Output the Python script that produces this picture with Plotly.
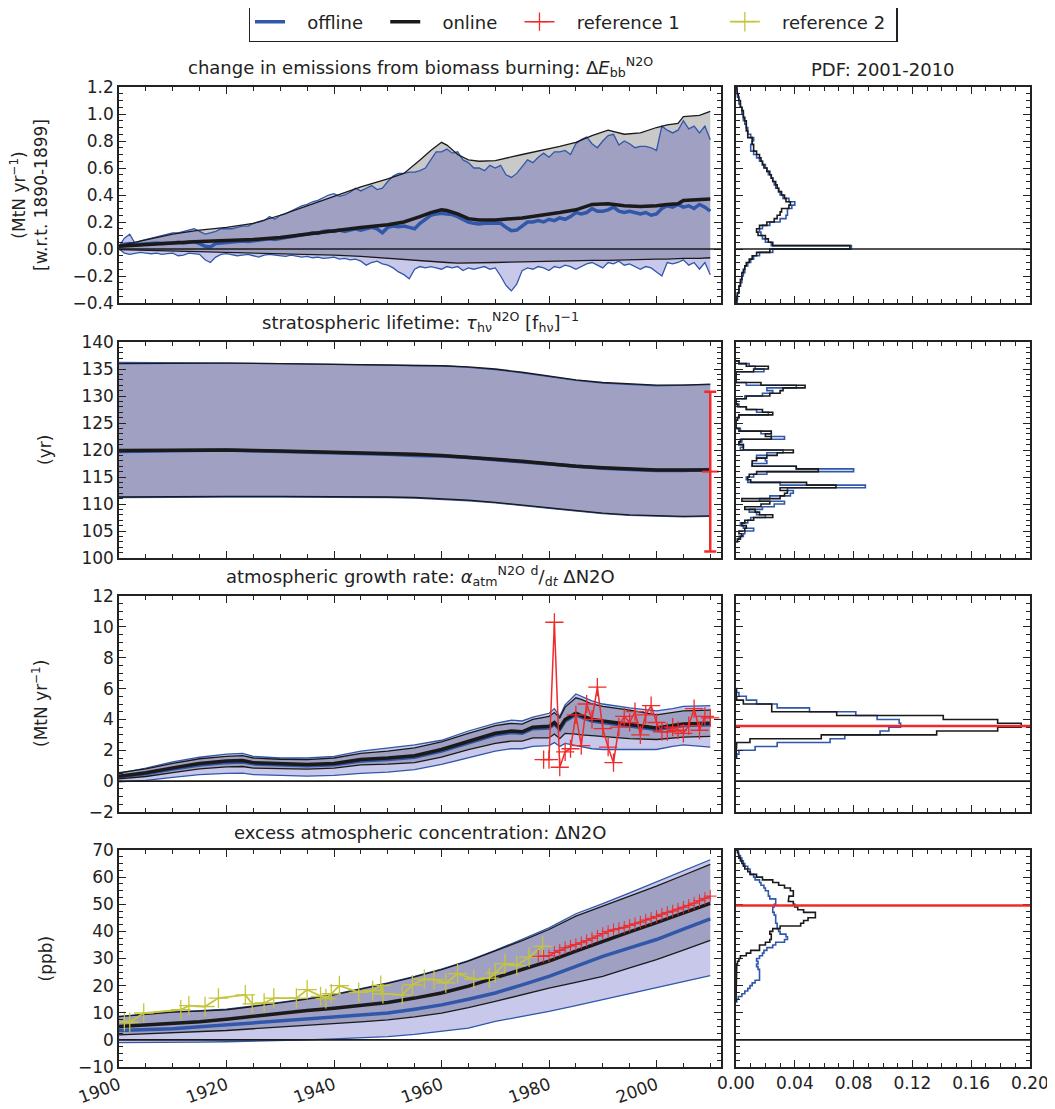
import plotly.graph_objects as go

# ---------------- DATA ----------------
# Panel 1: change in biomass-burning emissions (MtN/yr)
years_bb = list(range(1900, 2011))
off1_up = [0.02,0.08,0.11,0.04,0.06,0.07,0.08,0.09,0.10,0.11,
           0.12,0.12,0.13,0.14,0.15,0.13,0.11,0.12,0.13,0.15,
           0.15,0.15,0.16,0.17,0.17,0.19,0.20,0.21,0.24,0.22,
           0.25,0.26,0.28,0.30,0.32,0.33,0.35,0.36,0.38,0.40,
           0.41,0.39,0.40,0.42,0.45,0.43,0.45,0.47,0.44,0.45,
           0.50,0.54,0.56,0.56,0.57,0.57,0.58,0.60,0.66,0.72,
           0.72,0.74,0.71,0.72,0.66,0.64,0.60,0.60,0.58,0.62,
           0.60,0.62,0.55,0.53,0.56,0.61,0.66,0.64,0.68,0.71,
           0.68,0.72,0.72,0.73,0.70,0.78,0.81,0.83,0.78,0.75,
           0.80,0.84,0.85,0.77,0.80,0.78,0.75,0.76,0.76,0.75,
           0.73,0.91,0.88,0.86,0.88,0.95,0.89,0.91,0.86,0.91,
           0.81]
off1_med = [0.02,0.035,0.04,0.03,0.035,0.04,0.04,0.045,0.04,0.04,
            0.045,0.05,0.045,0.05,0.055,0.04,0.02,0.015,0.04,0.045,
            0.05,0.05,0.055,0.06,0.055,0.06,0.065,0.07,0.075,0.07,
            0.08,0.085,0.09,0.10,0.105,0.11,0.12,0.115,0.13,0.135,
            0.13,0.14,0.13,0.14,0.15,0.14,0.15,0.16,0.15,0.12,
            0.16,0.17,0.165,0.17,0.16,0.15,0.19,0.22,0.25,0.26,
            0.265,0.26,0.255,0.24,0.22,0.20,0.19,0.185,0.19,0.19,
            0.185,0.19,0.16,0.135,0.14,0.17,0.20,0.20,0.21,0.20,
            0.22,0.21,0.23,0.22,0.24,0.27,0.26,0.27,0.30,0.28,
            0.28,0.29,0.31,0.28,0.27,0.28,0.27,0.26,0.27,0.25,
            0.26,0.30,0.32,0.31,0.33,0.31,0.32,0.30,0.33,0.31,
            0.28]
off1_lo = [0.0,-0.03,-0.04,-0.03,-0.025,-0.03,-0.035,-0.03,-0.04,-0.035,
           -0.03,-0.05,-0.045,-0.03,-0.035,-0.04,-0.08,-0.10,-0.06,-0.04,
           -0.035,-0.04,-0.05,-0.045,-0.04,-0.05,-0.06,-0.045,-0.04,-0.045,
           -0.05,-0.055,-0.045,-0.05,-0.06,-0.055,-0.065,-0.06,-0.07,-0.065,
           -0.06,-0.075,-0.07,-0.08,-0.075,-0.09,-0.12,-0.10,-0.09,-0.11,
           -0.12,-0.14,-0.17,-0.19,-0.22,-0.15,-0.13,-0.14,-0.13,-0.14,
           -0.15,-0.13,-0.14,-0.13,-0.16,-0.14,-0.15,-0.14,-0.13,-0.15,
           -0.14,-0.20,-0.27,-0.31,-0.26,-0.16,-0.14,-0.15,-0.13,-0.14,
           -0.16,-0.13,-0.14,-0.12,-0.13,-0.15,-0.13,-0.11,-0.10,-0.12,
           -0.14,-0.10,-0.11,-0.09,-0.12,-0.11,-0.13,-0.15,-0.13,-0.14,
           -0.17,-0.20,-0.10,-0.11,-0.10,-0.08,-0.12,-0.10,-0.15,-0.10,
           -0.19]
years_on1 = [1900,1905,1910,1915,1920,1925,1930,1935,1940,1945,1950,1953,1956,1958,1960,1961,
             1963,1965,1967,1970,1975,1980,1982,1985,1988,1991,1994,1997,2000,2002,2004,2005,2008,2010]
on1_up = [0.025,0.07,0.11,0.14,0.16,0.19,0.25,0.32,0.39,0.46,0.52,0.56,0.66,0.73,0.79,0.77,
          0.70,0.66,0.65,0.655,0.70,0.74,0.76,0.79,0.84,0.88,0.85,0.86,0.90,0.92,0.93,0.98,0.99,1.02]
on1_med = [0.02,0.035,0.045,0.055,0.06,0.07,0.085,0.11,0.14,0.16,0.18,0.20,0.24,0.27,0.29,0.285,
           0.26,0.225,0.215,0.215,0.23,0.255,0.27,0.29,0.33,0.335,0.32,0.315,0.32,0.33,0.335,0.36,0.365,0.37]
on1_lo = [-0.005,-0.01,-0.015,-0.02,-0.02,-0.025,-0.03,-0.035,-0.045,-0.055,-0.07,-0.08,-0.09,-0.095,-0.10,-0.10,
          -0.105,-0.105,-0.10,-0.10,-0.095,-0.09,-0.09,-0.09,-0.085,-0.085,-0.08,-0.08,-0.075,-0.075,-0.07,-0.07,-0.07,-0.065]

# Panel 2: stratospheric lifetime (yr)
years_lt = [1900,1910,1920,1930,1940,1950,1955,1960,1965,1970,1975,1980,1985,1990,1995,2000,2005,2010]
on2_up  = [136.0,136.1,136.1,136.0,135.9,135.8,135.7,135.6,135.4,135.0,134.4,133.7,133.0,132.5,132.2,132.0,132.0,132.2]
on2_med = [119.9,120.0,120.0,119.8,119.6,119.3,119.2,119.0,118.7,118.3,117.9,117.4,117.0,116.7,116.5,116.3,116.3,116.3]
on2_lo  = [111.3,111.4,111.4,111.4,111.4,111.3,111.2,111.0,110.7,110.3,109.8,109.2,108.7,108.3,108.0,107.8,107.7,107.8]
off2_up  = [136.2,136.2,136.1,136.0,135.9,135.7,135.6,135.6,135.3,134.9,134.3,133.6,132.9,132.4,132.1,131.9,132.0,132.1]
off2_med = [119.7,119.9,120.0,119.7,119.5,119.2,119.0,118.9,118.6,118.2,117.8,117.3,116.9,116.6,116.4,116.2,116.2,116.4]
off2_lo  = [111.2,111.3,111.3,111.3,111.3,111.2,111.1,110.9,110.6,110.2,109.7,109.1,108.6,108.2,107.9,107.7,107.6,107.7]
ref1_lt_year = [2010]
ref1_lt_val = [116.0]
ref1_lt_err = [14.8]

# Panel 3: atmospheric growth rate (MtN/yr)
years_gr = [1900,1905,1910,1915,1920,1923,1925,1930,1935,1940,1945,1950,1955,1960,1965,1970,
            1973,1975,1977,1980,1981,1982,1983,1985,1986,1988,1990,1995,2000,2003,2005,2010]
on3_up  = [0.55,0.80,1.15,1.45,1.60,1.65,1.50,1.42,1.40,1.50,1.80,1.95,2.15,2.55,3.10,3.60,
           3.75,3.70,4.00,4.20,4.45,4.10,4.80,5.40,5.30,5.00,4.85,4.60,4.30,4.45,4.55,4.60]
on3_med = [0.32,0.54,0.86,1.15,1.30,1.34,1.20,1.12,1.08,1.15,1.40,1.50,1.65,2.05,2.60,3.10,
           3.25,3.20,3.50,3.55,3.80,3.45,4.00,4.40,4.25,4.00,3.90,3.70,3.45,3.60,3.70,3.75]
on3_lo  = [0.15,0.30,0.55,0.80,0.92,0.95,0.85,0.80,0.78,0.85,1.05,1.10,1.20,1.55,2.05,2.45,
           2.60,2.60,2.80,2.80,3.05,2.75,3.10,3.05,3.00,2.95,2.90,2.75,2.70,2.80,2.85,2.90]
off3_up  = [0.50,0.85,1.25,1.55,1.75,1.80,1.60,1.50,1.50,1.60,1.95,2.15,2.35,2.65,3.25,3.75,
            3.95,3.90,4.15,4.40,4.70,4.20,4.95,5.65,5.50,5.20,5.00,4.75,4.55,4.70,4.85,4.90]
off3_med = [0.28,0.48,0.78,1.05,1.20,1.24,1.12,1.05,1.00,1.07,1.30,1.40,1.55,1.95,2.50,3.00,
            3.15,3.10,3.40,3.45,3.70,3.35,3.90,4.30,4.15,3.90,3.80,3.60,3.35,3.50,3.60,3.65]
off3_lo  = [-0.05,0.05,0.25,0.42,0.50,0.52,0.42,0.35,0.32,0.37,0.50,0.58,0.75,1.08,1.50,1.95,
            2.10,2.10,2.25,2.30,2.50,2.25,2.45,2.30,2.25,2.10,2.05,2.05,2.05,2.25,2.35,2.20]
ref1_gr_years = list(range(1979, 2011))
ref1_gr = [1.4,1.4,10.3,0.9,1.9,2.1,4.3,2.3,5.0,4.0,6.1,3.4,2.2,1.2,3.5,4.2,3.8,4.5,3.0,4.3,
           4.9,3.8,3.2,3.2,3.5,3.3,3.1,3.6,4.7,3.3,4.2,4.1]
ref1_gr_mean = 3.57

# Panel 4: excess atmospheric concentration (ppb)
years_cn = [1900,1905,1910,1915,1920,1925,1930,1935,1940,1945,1950,1955,1960,1965,1970,1975,
            1980,1985,1990,1995,2000,2005,2010]
on4_up  = [8.6,9.4,10.2,10.6,11.1,12.3,13.6,15.0,16.6,18.6,20.8,23.2,25.9,29.0,32.7,36.6,
           40.7,45.6,49.3,53.0,56.7,60.7,64.7]
on4_med = [4.9,5.4,5.9,6.7,7.6,8.7,9.9,10.8,11.7,12.7,13.8,15.4,17.3,19.8,22.8,25.9,
           29.0,32.7,36.4,39.8,43.2,46.8,50.3]
on4_lo  = [1.85,2.2,2.5,3.0,3.45,4.1,4.7,5.3,5.9,6.6,7.4,8.5,9.9,11.9,14.2,16.6,
           19.1,21.2,23.4,26.5,29.6,33.1,36.7]
off4_up  = [8.7,9.5,10.3,10.8,11.3,12.5,13.8,15.2,16.8,18.8,21.0,23.4,26.1,29.2,33.0,37.1,
            41.3,46.5,50.2,54.2,58.2,62.4,66.4]
off4_med = [3.45,3.8,4.1,4.8,5.5,6.1,6.8,7.6,8.4,9.1,9.9,11.3,12.9,15.0,17.3,20.3,
            23.4,27.1,30.8,33.9,37.0,40.8,44.6]
off4_lo  = [-1.0,-1.0,-1.0,-0.85,-0.7,-0.55,-0.4,0.0,0.4,0.8,1.2,2.0,3.1,4.3,6.8,8.6,
            10.5,12.6,14.8,16.9,19.1,21.4,23.7]
ref1_cn_years = list(range(1978, 2011))
ref1_cn = [30.8,30.8,31.0,32.2,33.0,34.0,34.6,35.2,35.8,36.6,37.4,38.3,39.2,40.0,40.6,41.0,41.5,
           42.2,42.8,43.4,44.2,44.8,45.5,46.3,47.0,47.5,48.2,48.9,49.6,50.4,51.3,52.2,53.0]
ref1_cn_mean = 49.5
ref2_cn_years = [1901,1902,1904.6,1911.5,1913,1916,1918.5,1923.5,1924.8,1927,1928.8,1933,1935,1937.5,
                 1938.5,1939.5,1941,1944.6,1947.2,1948.7,1949.1,1952.7,1954.6,1956.8,1958.6,1960.8,
                 1963,1966,1968.9,1970,1971.8,1974,1976.3,1978.8]
ref2_cn = [6.8,6.5,9.9,11.1,12.6,12.3,15.4,16.6,13.3,13.6,15.4,15.4,18.5,16.0,15.2,17.0,20.0,
           17.5,18.2,20.1,17.0,16.6,20.3,22.4,22.2,21.0,24.4,22.4,22.8,24.7,28.1,27.4,30.5,34.5]

# PDFs 2001-2010 (bin start, bin width, densities bottom-up)
pdf1_start, pdf1_width = -0.4, 0.025
pdf1_on = [0.0005,0.0005,0.001,0.002,0.002,0.003,0.003,0.004,0.004,0.005,0.006,0.007,0.009,0.011,0.014,0.023,
           0.0775,0.025,0.022,0.020,0.015,0.014,0.016,0.021,0.026,0.028,0.030,0.031,0.036,0.037,0.034,0.033,
           0.031,0.029,0.028,0.027,0.025,0.024,0.023,0.021,0.019,0.018,0.017,0.016,0.014,0.012,0.012,0.011,
           0.011,0.008,0.008,0.007,0.007,0.007,0.006,0.005,0.005,0.004,0.003,0.003,0.002,0.0015,0.001,0.0005]
pdf1_off = [0.0005,0.001,0.001,0.002,0.002,0.003,0.004,0.004,0.005,0.006,0.006,0.008,0.010,0.012,0.016,0.025,
            0.0785,0.024,0.020,0.018,0.017,0.016,0.018,0.023,0.030,0.034,0.035,0.035,0.038,0.040,0.036,0.032,
            0.030,0.029,0.027,0.026,0.025,0.024,0.022,0.021,0.020,0.018,0.016,0.014,0.012,0.010,0.010,0.011,
            0.012,0.010,0.008,0.008,0.007,0.006,0.005,0.005,0.004,0.004,0.003,0.002,0.002,0.001,0.001,0.0005]
pdf2_start, pdf2_width = 103.0, 0.5
pdf2_on = [0.001,0.003,0.004,0.002,0.006,0.007,0.004,0.006,0.012,0.025,
           0.016,0.013,0.006,0.017,0.023,0.004,0.030,0.033,0.035,0.030,
           0.068,0.048,0.010,0.008,0.009,0.014,0.056,0.041,0.011,0.011,
           0.014,0.021,0.028,0.039,0.005,0.005,0.002,0.003,0.024,0.020,
           0.024,0.002,0.0,0.0,0.0,0.001,0.002,0.025,0.018,0.007,
           0.001,0.0,0.0,0.007,0.023,0.030,0.032,0.047,0.017,0.0,
           0.0,0.0,0.0,0.012,0.022,0.007,0.002]
pdf2_off = [0.001,0.002,0.005,0.006,0.012,0.005,0.003,0.008,0.010,0.020,
            0.014,0.009,0.018,0.026,0.033,0.016,0.023,0.037,0.039,0.035,
            0.088,0.030,0.008,0.007,0.012,0.021,0.080,0.041,0.011,0.021,
            0.020,0.014,0.021,0.032,0.003,0.005,0.002,0.004,0.033,0.024,
            0.017,0.003,0.0,0.0,0.0,0.001,0.002,0.022,0.014,0.007,
            0.002,0.0,0.0,0.006,0.018,0.025,0.021,0.041,0.007,0.0,
            0.0,0.0,0.0,0.019,0.013,0.009,0.002]
pdf3_start, pdf3_width = 1.5, 0.25
pdf3_on = [0.0,0.0,0.0,0.0005,0.0095,0.058,0.1365,0.178,0.194,0.178,0.141,0.0685,0.0243,0.0243,0.005,0.0005,0.0,0.0]
pdf3_off = [0.0005,0.002,0.013,0.028,0.064,0.074,0.098,0.104,0.112,0.111,0.096,0.0815,0.05,0.028,0.014,0.007,0.002,0.0005]
pdf4_start, pdf4_width = 14.0, 1.0
pdf4_on = [0.0]*13 + [0.0005,0.001,0.002,0.003,0.007,0.010,0.016,0.016,0.020,0.023,0.024,0.024,0.023,0.025,
                      0.030,0.044,0.046,0.049,0.054,0.054,0.046,0.042,0.040,0.039,0.0356,0.036,0.039,0.039,
                      0.037,0.033,0.029,0.025,0.018,0.014,0.0095,0.008,0.006,0.005,0.004,0.003,0.002,0.0016,0.001]
pdf4_off = [0.0005,0.0016,0.004,0.006,0.008,0.0095,0.011,0.013,0.016,0.016,0.016,0.016,0.015,0.014,0.015,
            0.014,0.016,0.018,0.019,0.021,0.025,0.027,0.033,0.035,0.034,0.030,0.029,0.028,0.028,0.027,
            0.027,0.027,0.026,0.025,0.025,0.026,0.027,0.027,0.023,0.022,0.022,0.020,0.019,0.017,0.016,
            0.013,0.012,0.010,0.0095,0.008,0.006,0.005,0.004,0.003,0.002,0.0015]

legend_names = ["offline", "online", "reference 1", "reference 2"]
titles = ["change in emissions from biomass burning: Δ<i>E</i><sub>bb</sub><sup>N2O</sup>",
          "stratospheric lifetime: <i>τ</i><sub>hν</sub><sup>N2O</sup> [f<sub>hν</sub>]<sup>−1</sup>",
          "atmospheric growth rate: <i>α</i><sub>atm</sub><sup>N2O</sup> <sup>d</sup>/<sub>d<i>t</i></sub> ΔN2O",
          "excess atmospheric concentration: ΔN2O"]
ylabels = ["(MtN yr<sup>−1</sup>)<br>[w.r.t. 1890-1899]", "(yr)", "(MtN yr<sup>−1</sup>)", "(ppb)"]

# ---------------- STYLE ----------------
W, H = 1055, 1109
OFF = 8  # page body margin seen in the screenshot
BLUE = "#3157aa"
BLACK = "#1a1a1a"
RED = "#f02a2a"
YEL = "#c5c53c"
FILL_ON = "rgba(0,0,0,0.21)"
FILL_OFF = "rgba(50,50,178,0.27)"
FONT = "DejaVu Sans"
TICK_FS, TITLE_FS, LEG_FS, YLAB_FS = 17, 18, 18, 17
NB = "\u00a0"
LEG_PAD = [(3, 3), (3, 3), (3, 7), (3, 1)]  # leading / trailing non-breaking spaces
leg_text = [NB * a + n + NB * b for n, (a, b) in zip(legend_names, LEG_PAD)]

def fx(p): return (p - OFF) / W
def fy(p): return 1 - (p - OFF) / H

LEFT = [fx(119), fx(721)]
RIGHT = [fx(736), fx(1030)]
ROWS = [(87, 303), (342, 558), (596, 812), (850, 1067)]
YR = [[-0.4, 1.2], [100, 140], [-2, 12], [-10, 70]]
YD = [0.2, 5, 2, 10]
YM = [0.05, 1, 0.5, 2.5]
YFMT = [".1f", "d", "d", "d"]

fig = go.Figure()

def ax(i):
    return ("x" if i == 1 else f"x{i}"), ("y" if i == 1 else f"y{i}")

def band(i, xs, up, lo, color):
    xa, ya = ax(i)
    fig.add_trace(go.Scatter(x=list(xs) + list(xs)[::-1], y=list(up) + list(lo)[::-1],
                             fill="toself", fillcolor=color, mode="none", line=dict(width=0),
                             hoverinfo="skip", showlegend=False, xaxis=xa, yaxis=ya))

def line(i, xs, ys, color, width, name=None, legend=False, rank=None):
    xa, ya = ax(i)
    fig.add_trace(go.Scatter(x=xs, y=ys, mode="lines", line=dict(color=color, width=width),
                             name=name, showlegend=legend, legendrank=rank, xaxis=xa, yaxis=ya))

def step(i, start, width, dens, color):
    xa, ya = ax(i)
    xs, ys = [0.0], [start]
    for k, d in enumerate(dens):
        xs += [d, d]
        ys += [start + k * width, start + (k + 1) * width]
    xs.append(0.0); ys.append(start + len(dens) * width)
    fig.add_trace(go.Scatter(x=xs, y=ys, mode="lines", line=dict(color=color, width=1.6),
                             showlegend=False, hoverinfo="skip", xaxis=xa, yaxis=ya))

panels = [
    (years_bb, off1_up, off1_med, off1_lo, years_on1, on1_up, on1_med, on1_lo),
    (years_lt, off2_up, off2_med, off2_lo, years_lt, on2_up, on2_med, on2_lo),
    (years_gr, off3_up, off3_med, off3_lo, years_gr, on3_up, on3_med, on3_lo),
    (years_cn, off4_up, off4_med, off4_lo, years_cn, on4_up, on4_med, on4_lo),
]
pdfs = [(pdf1_start, pdf1_width, pdf1_off, pdf1_on), (pdf2_start, pdf2_width, pdf2_off, pdf2_on),
        (pdf3_start, pdf3_width, pdf3_off, pdf3_on), (pdf4_start, pdf4_width, pdf4_off, pdf4_on)]

for r, (yo, ou, om, ol, yn, nu, nm, nl) in enumerate(panels):
    li = 2 * r + 1
    band(li, yn, nu, nl, FILL_ON)
    band(li, yo, ou, ol, FILL_OFF)
    line(li, yo, ou, BLUE, 1.3)
    line(li, yo, ol, BLUE, 1.3)
    line(li, yo, om, BLUE, 3.5, name=leg_text[0], legend=(r == 0), rank=1)
    line(li, yn, nu, BLACK, 1.3)
    line(li, yn, nl, BLACK, 1.3)
    line(li, yn, nm, BLACK, 3.5, name=leg_text[1], legend=(r == 0), rank=2)
    s, w, doff, don = pdfs[r]
    step(li + 1, s, w, doff, BLUE)
    step(li + 1, s, w, don, BLACK)

mk_red = dict(symbol="cross-thin", size=13, line=dict(width=1.3, color=RED), color=RED)
mk_yel = dict(symbol="cross-thin", size=14, line=dict(width=1.3, color=YEL), color=YEL)

# reference 1 lifetime error bar
fig.add_trace(go.Scatter(x=ref1_lt_year, y=ref1_lt_val, mode="markers",
                         marker=dict(symbol="line-ew", size=12, line=dict(width=2, color=RED)),
                         error_y=dict(type="data", array=ref1_lt_err, color=RED, thickness=2.5, width=6),
                         showlegend=False, xaxis="x3", yaxis="y3"))
# reference 1 growth rate
fig.add_trace(go.Scatter(x=ref1_gr_years, y=ref1_gr, mode="lines+markers", line=dict(color=RED, width=1.5),
                         marker=mk_red, name=leg_text[2], showlegend=True, legendrank=3,
                         xaxis="x5", yaxis="y5"))
# reference 1 & 2 concentration
fig.add_trace(go.Scatter(x=ref2_cn_years, y=ref2_cn, mode="lines+markers", line=dict(color=YEL, width=1.8),
                         marker=mk_yel, name=leg_text[3], showlegend=True, legendrank=4,
                         xaxis="x7", yaxis="y7"))
fig.add_trace(go.Scatter(x=ref1_cn_years, y=ref1_cn, mode="lines+markers", line=dict(color=RED, width=1.5),
                         marker=dict(symbol="cross-thin", size=9, line=dict(width=1, color=RED)),
                         showlegend=False, xaxis="x7", yaxis="y7"))

shapes = []
for r in [0, 2, 3]:
    for i in [2 * r + 1, 2 * r + 2]:
        xa, ya = ax(i)
        shapes.append(dict(type="line", xref=f"{xa} domain", yref=ya, x0=0, x1=1, y0=0, y1=0,
                           line=dict(color=BLACK, width=1.6), layer="above"))
for i, v in [(6, ref1_gr_mean), (8, ref1_cn_mean)]:
    xa, ya = ax(i)
    shapes.append(dict(type="line", xref=f"{xa} domain", yref=ya, x0=0, x1=1, y0=v, y1=v,
                       line=dict(color=RED, width=2.5), layer="above"))

base = dict(showline=True, linecolor="#222", linewidth=1.5, mirror="allticks", ticks="inside",
            ticklen=7, tickwidth=1.2, tickcolor="#222", showgrid=False, zeroline=False,
            automargin=False, tickfont=dict(family=FONT, size=TICK_FS, color="#222"))

layout = dict(width=W, height=H, margin=dict(l=0, r=0, t=0, b=0, autoexpand=False),
              plot_bgcolor="white", paper_bgcolor="white", template="none",
              font=dict(family=FONT, size=TICK_FS, color="#222"), shapes=shapes)

for r in range(4):
    top, bot = ROWS[r]
    dom = [fy(bot), fy(top)]
    li, ri = 2 * r + 1, 2 * r + 2
    for i, xdom, isleft in [(li, LEFT, True), (ri, RIGHT, False)]:
        xa, ya = ax(i)
        xk = "xaxis" if i == 1 else f"xaxis{i}"
        yk = "yaxis" if i == 1 else f"yaxis{i}"
        xd = dict(base, domain=xdom, anchor=ya)
        if isleft:
            xd.update(range=[1900, 2012], tick0=1900, dtick=20,
                      minor=dict(ticks="inside", ticklen=4, tickcolor="#222", dtick=5, tick0=1900),
                      showticklabels=(r == 3), tickangle=-20)
        else:
            xd.update(range=[0, 0.2], tick0=0, dtick=0.04, tickformat=".2f",
                      minor=dict(ticks="inside", ticklen=4, tickcolor="#222", dtick=0.01, tick0=0),
                      showticklabels=(r == 3))
        yd = dict(base, domain=dom, anchor=xa, range=YR[r], dtick=YD[r], tick0=0,
                  tickformat=YFMT[r], showticklabels=isleft,
                  minor=dict(ticks="inside", ticklen=4, tickcolor="#222", dtick=YM[r], tick0=0))
        layout[xk] = xd
        layout[yk] = yd

annotations = []
for r in range(4):
    top, bot = ROWS[r]
    annotations.append(dict(text=titles[r], xref="paper", yref="paper", x=(LEFT[0] + LEFT[1]) / 2,
                            y=fy(top - 5), xanchor="center", yanchor="bottom", showarrow=False,
                            font=dict(family=FONT, size=TITLE_FS, color="#222")))
annotations.append(dict(text="PDF: 2001-2010", xref="paper", yref="paper", x=(RIGHT[0] + RIGHT[1]) / 2,
                        y=fy(ROWS[0][0] - 5), xanchor="center", yanchor="bottom", showarrow=False,
                        font=dict(family=FONT, size=TITLE_FS, color="#222")))
ylab_x = [29, 45, 40, 45]
for r in range(4):
    top, bot = ROWS[r]
    annotations.append(dict(text=ylabels[r], xref="paper", yref="paper", x=fx(ylab_x[r]),
                            y=fy((top + bot) / 2), xanchor="center", yanchor="middle", textangle=-90,
                            showarrow=False, font=dict(family=FONT, size=YLAB_FS, color="#222")))
layout["annotations"] = annotations
layout["legend"] = dict(orientation="h", x=fx(573), xanchor="center", y=fy(22), yanchor="middle",
                        bordercolor="#222", borderwidth=1.5, bgcolor="white",
                        font=dict(family=FONT, size=LEG_FS, color="#222"), itemwidth=30,
                        entrywidth=0, traceorder="normal")

fig.update_layout(**layout)
fig.write_html("out.html")
